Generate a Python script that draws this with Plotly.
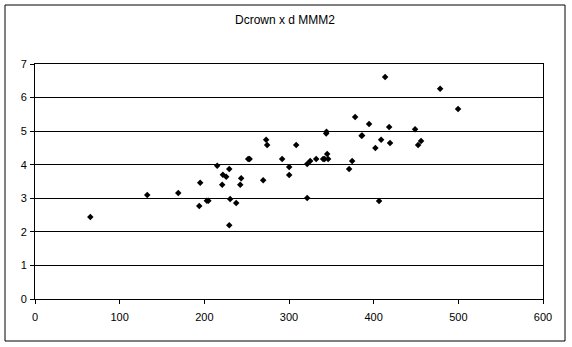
import plotly.graph_objects as go

# Data (d in x, Dcrown in y)
d_values = [65.3, 132.6, 169.2, 194.0, 195.1, 203.0, 204.8, 215.2, 221.1, 221.9,
            225.8, 229.4, 229.4, 230.5, 237.6, 242.4, 243.5, 251.8, 253.5, 269.5,
            273.0, 274.2, 291.9, 300.2, 300.2, 308.5, 321.5, 321.5, 325.0, 332.1,
            340.3, 342.0, 345.1, 346.2, 343.9, 344.3, 371.0, 374.6, 378.1, 385.7,
            386.4, 394.6, 402.0, 406.4, 408.8, 413.5, 418.3, 419.4, 448.9, 452.5,
            456.0, 478.5, 499.7]
dcrown_values = [2.44, 3.10, 3.16, 2.77, 3.46, 2.93, 2.93, 3.97, 3.40, 3.70,
                 3.64, 3.87, 2.20, 2.98, 2.86, 3.40, 3.60, 4.17, 4.17, 3.54,
                 4.74, 4.59, 4.17, 3.93, 3.69, 4.59, 4.02, 3.01, 4.11, 4.17,
                 4.17, 4.17, 4.32, 4.17, 4.93, 4.98, 3.87, 4.11, 5.42, 4.86,
                 4.87, 5.21, 4.50, 2.92, 4.74, 6.61, 5.12, 4.65, 5.06, 4.59,
                 4.71, 6.26, 5.66]

title_text = "Dcrown x d MMM2"
x_ticks = [0, 100, 200, 300, 400, 500, 600]
y_ticks = [0, 1, 2, 3, 4, 5, 6, 7]

FONT = "Liberation Sans, Arial, sans-serif"

fig = go.Figure()
fig.add_trace(go.Scatter(
    x=d_values, y=dcrown_values, mode="markers",
    marker=dict(symbol="diamond", size=5, color="black", line=dict(width=0)),
    showlegend=False, hoverinfo="x+y",
))

W, H = 572, 347
L, R, T, B = 35, 29, 64, 48
pw, ph = W - L - R, H - T - B

def px_x(p):
    return (p - L) / pw

def px_y(p):
    return (H - B - p) / ph

fig.update_layout(
    width=W, height=H,
    margin=dict(l=L, r=R, t=T, b=B),
    paper_bgcolor="white", plot_bgcolor="white",
    font=dict(family=FONT, size=11, color="black"),
    title=dict(text=title_text, x=285 / W, xanchor="center",
               y=1 - 20 / H, yanchor="middle",
               font=dict(family=FONT, size=12, color="black")),
    xaxis=dict(range=[0, 600], tickvals=x_ticks, ticktext=[str(v) for v in x_ticks],
               showgrid=False, zeroline=False,
               showline=True, linecolor="black", linewidth=1, mirror=True,
               ticks="outside", ticklen=4, tickcolor="black", tickwidth=1,
               ticklabelstandoff=4,
               tickfont=dict(family=FONT, size=11, color="black")),
    yaxis=dict(range=[0, 7], tickvals=y_ticks, ticktext=[str(v) for v in y_ticks],
               showgrid=True, gridcolor="black", gridwidth=1, zeroline=False,
               showline=True, linecolor="black", linewidth=1, mirror=True,
               ticks="outside", ticklen=4, tickcolor="black", tickwidth=1,
               ticklabelstandoff=1,
               tickfont=dict(family=FONT, size=11, color="black")),
    shapes=[dict(type="rect", xref="paper", yref="paper",
                 x0=px_x(5), x1=px_x(565), y0=px_y(341), y1=px_y(5),
                 line=dict(color="black", width=1), fillcolor="rgba(0,0,0,0)",
                 layer="below")],
)

fig.write_html("out.html")
